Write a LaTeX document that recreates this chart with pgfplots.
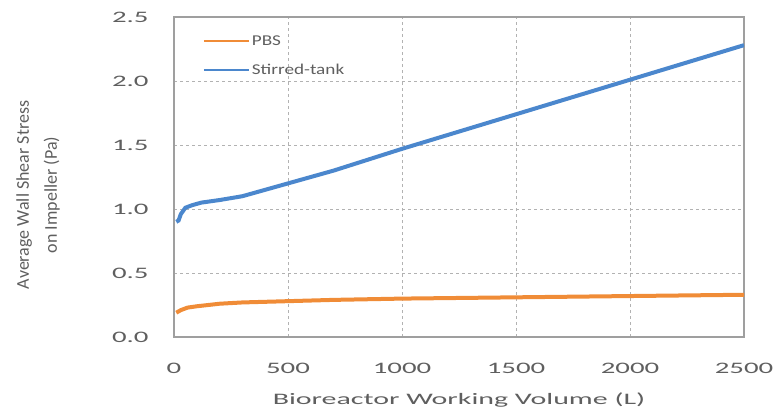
\documentclass[border=0pt]{standalone}
\usepackage{pgfplots}
\pgfplotsset{compat=1.18}
\usepackage{fontspec}
\setmainfont{Carlito}
\definecolor{pbsorange}{RGB}{240,140,55}
\definecolor{stblue}{RGB}{75,135,205}
\definecolor{txtgray}{RGB}{95,95,95}

\begin{document}
\begin{tikzpicture}
\useasboundingbox (0,0) rectangle (775pt,413pt);
\begin{axis}[
    at={(174pt,76pt)}, anchor=south west,
    scale only axis, width=570pt, height=320pt,
    xmin=0, xmax=2500, ymin=0, ymax=2.5,
    xtick={0,500,...,2500}, ytick={0,0.5,...,2.5},
    /pgf/number format/assume math mode=true,
    /pgf/number format/1000 sep={},
    scaled ticks=false,
    major tick length=0pt,
    axis line style={gray!75, line width=1.2pt},
    grid=major,
    major grid style={gray!60, dashed, line width=0.6pt},
    tick label style={font=\fontsize{16}{16}\selectfont, text=txtgray},
    xticklabel={\scalebox{1.8}[1]{\pgfmathprintnumber{\tick}}},
    yticklabel={\scalebox{1.8}[1]{\pgfmathprintnumber[fixed,fixed zerofill,precision=1]{\tick}}},
    x tick label style={yshift=-23pt},
    y tick label style={xshift=-22pt},
    xlabel={\scalebox{1.87}[1]{Bioreactor Working Volume (L)}},
    xlabel style={font=\fontsize{16}{16}\selectfont, text=txtgray,
        at={(axis description cs:0.5,-0.196)}, anchor=center},
    ylabel={\begin{tabular}{c}Average Wall Shear Stress\\[8pt]on Impeller (Pa)\end{tabular}},
    ylabel style={font=\fontsize{18}{20}\selectfont, text=txtgray,
        at={(axis description cs:-0.237,0.444)}, anchor=center},
    legend style={draw=none, fill=none, at={(0.045,0.955)}, anchor=north west,
        font=\fontsize{15}{15}\selectfont, text=txtgray, row sep=13pt},
    legend cell align=left,
    legend image code/.code={\draw[#1, line width=2pt] (0pt,0pt) -- (45pt,0pt);},
]
\addplot[pbsorange, line width=4pt] coordinates {
 (10,0.19) (30,0.21) (60,0.23) (100,0.24) (200,0.26) (300,0.27) (500,0.28)
 (700,0.29) (1000,0.30) (1500,0.31) (2000,0.32) (2500,0.33)};
\addlegendentry{\scalebox{1.28}[1]{PBS}}
\addplot[stblue, line width=4pt] coordinates {
 (10,0.90) (20,0.91) (30,0.96) (50,1.01) (80,1.03) (120,1.05) (200,1.07)
 (300,1.10) (400,1.15) (500,1.20) (700,1.30) (1000,1.47) (1500,1.74)
 (2000,2.01) (2500,2.28)};
\addlegendentry{\scalebox{1.28}[1]{Stirred-tank}}
\end{axis}
\end{tikzpicture}
\end{document}
